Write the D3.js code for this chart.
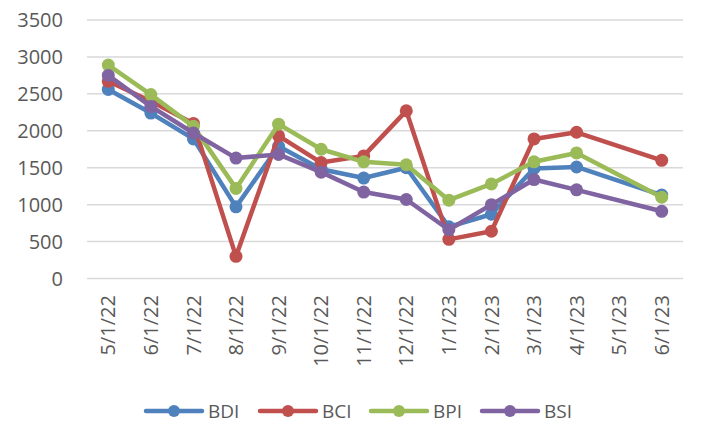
<!DOCTYPE html>
<html><head><meta charset="utf-8">
<script src="https://cdn.jsdelivr.net/npm/d3@7/dist/d3.min.js"></script>
<style>body{margin:0;background:#fff}svg{display:block}</style>
</head><body>
<script>
const categories = ["5/1/22","6/1/22","7/1/22","8/1/22","9/1/22","10/1/22","11/1/22","12/1/22","1/1/23","2/1/23","3/1/23","4/1/23","5/1/23","6/1/23"];
const BDI = [2560,2240,1890,970,1790,1480,1360,1500,700,870,1490,1510,null,1130];
const BCI = [2670,2400,2100,300,1930,1570,1660,2270,530,640,1890,1980,null,1600];
const BPI = [2890,2490,2060,1220,2090,1750,1580,1540,1060,1280,1580,1700,null,1100];
const BSI = [2750,2330,1970,1630,1680,1440,1170,1070,660,1000,1340,1200,null,910];
const yTicks = [0,500,1000,1500,2000,2500,3000,3500];
const seriesNames = ["BDI","BCI","BPI","BSI"];
const seriesValues = [BDI,BCI,BPI,BSI];
const colors = ["#4F81BD","#C0504D","#9BBB59","#8064A2"];

const W=703,H=424;
const svg=d3.select("body").append("svg").attr("width",W).attr("height",H);
const font="'Open Sans', sans-serif";
const x=d3.scaleBand().domain(categories).range([87,683]).padding(0);
const y=d3.scaleLinear().domain([0,3500]).range([278.5,20]);

// gridlines
svg.append("g").selectAll("line").data(yTicks).join("line")
  .attr("x1",87).attr("x2",683).attr("y1",d=>y(d)).attr("y2",d=>y(d))
  .attr("stroke","#d9d9d9").attr("stroke-width",1.5);

// y labels
svg.append("g").selectAll("text").data(yTicks).join("text")
  .attr("x",63).attr("y",d=>y(d)).attr("dy","0.36em").attr("text-anchor","end")
  .attr("font-family",font).attr("font-size",20).attr("fill","#595959").text(d=>d);

// x labels
svg.append("g").selectAll("text").data(categories).join("text")
  .attr("transform",d=>`translate(${x(d)+x.bandwidth()/2},295) rotate(-90)`)
  .attr("dy","0.36em").attr("text-anchor","end")
  .attr("font-family",font).attr("font-size",20).attr("fill","#595959").text(d=>d);

const line=d3.line().x(d=>x(d.c)+x.bandwidth()/2).y(d=>y(d.v));
seriesNames.forEach((name,i)=>{
  const pts=categories.map((c,j)=>({c,v:seriesValues[i][j]})).filter(d=>d.v!=null);
  const g=svg.append("g");
  g.append("path").datum(pts).attr("d",line).attr("fill","none")
    .attr("stroke",colors[i]).attr("stroke-width",4.5).attr("stroke-linejoin","round").attr("stroke-linecap","round");
  g.selectAll("circle").data(pts).join("circle")
    .attr("cx",d=>x(d.c)+x.bandwidth()/2).attr("cy",d=>y(d.v)).attr("r",6.5).attr("fill",colors[i]);
});

// legend
const lg=svg.append("g");
const lx=[146,260,371,482];
seriesNames.forEach((name,i)=>{
  const g=lg.append("g").attr("transform",`translate(${lx[i]},411)`);
  g.append("line").attr("x1",0).attr("x2",56).attr("stroke",colors[i]).attr("stroke-width",4.5).attr("stroke-linecap","round");
  g.append("circle").attr("cx",28).attr("r",6).attr("fill",colors[i]);
  g.append("text").attr("x",62).attr("y",0).attr("dy","0.36em").attr("font-family",font).attr("font-size",19).attr("fill","#595959").text(name);
});
</script>
</body></html>
